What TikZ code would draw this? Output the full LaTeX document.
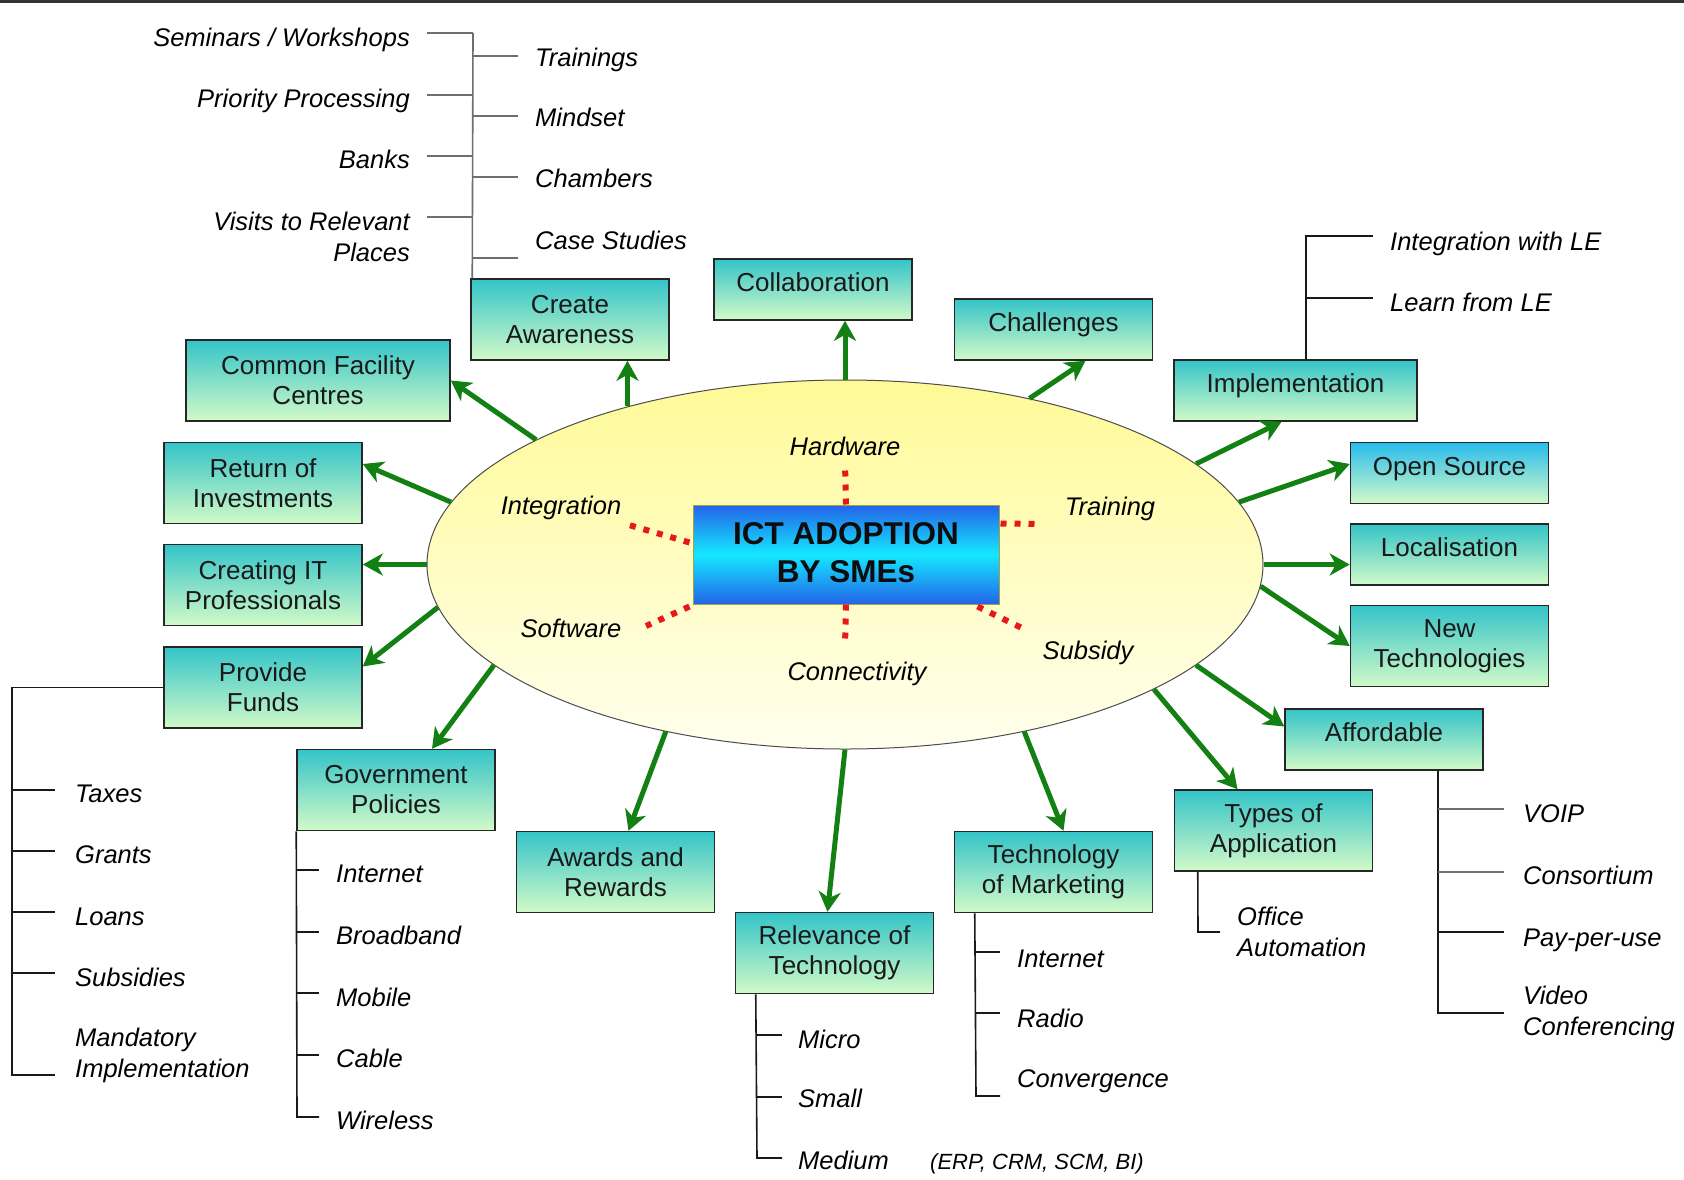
\documentclass[tikz,border=0pt]{standalone}
\usepackage{graphicx}
\usepackage{fontspec}
\setmainfont{Liberation Sans}
\usetikzlibrary{arrows.meta,shapes.geometric,calc}

\definecolor{boxtop}{RGB}{52,196,200}
\definecolor{boxbot}{RGB}{210,250,200}
\definecolor{ostop}{RGB}{40,188,236}
\definecolor{arrowgreen}{RGB}{18,128,18}
\definecolor{dotred}{RGB}{232,24,24}
\definecolor{ovaltop}{RGB}{255,250,150}
\definecolor{ovalbot}{RGB}{255,255,238}
\definecolor{hubblue}{RGB}{36,100,232}
\definecolor{hubcyan}{RGB}{20,232,255}
\definecolor{hubedge}{RGB}{160,160,70}
\definecolor{treegray}{RGB}{110,110,110}

\newcommand\boxfont{\fontsize{26}{30}\selectfont}
\newcommand\itemfont{\fontsize{25.5}{31}\selectfont\itshape}
\newcommand\hubfont{\fontsize{31.5}{38}\selectfont\bfseries}

\tikzset{
  oval/.style={ellipse, draw=black!70, line width=1pt, top color=ovaltop, bottom color=ovalbot,
    minimum width=836pt, minimum height=369pt, inner sep=0pt},
  hubbox/.style={draw=hubedge, line width=1pt, top color=hubblue, bottom color=hubblue, middle color=hubcyan,
    minimum width=306pt, minimum height=99pt, inner sep=0pt},
  hubtitle/.style={font=\hubfont, align=center, inner sep=0pt, text=black!95},
  topic/.style={draw=black!85, line width=1.5pt, top color=boxtop, bottom color=boxbot,
    minimum width=198pt, minimum height=81pt, inner sep=0pt, align=center, font=\boxfont, text=black!90},
  oneline/.style={minimum height=61pt, text height=18pt, text depth=13.4pt},
  spoke/.style={draw=arrowgreen, line width=5pt, -{Stealth[length=20pt,width=22pt,inset=6pt]}},
  facet/.style={draw=dotred, line width=6pt, dash pattern=on 6pt off 8pt},
  facetlabel/.style={font=\itemfont, inner sep=0pt, anchor=base},
  item/.style={font=\itemfont, inner sep=0pt, anchor=base west},
  itemr/.style={font=\itemfont, inner sep=0pt, anchor=base east},
  item2/.style={font=\itemfont, inner sep=0pt, anchor=west, align=left},
  item2r/.style={font=\itemfont, inner sep=0pt, anchor=east, align=right},
  branch/.style={draw=black!90, line width=1.6pt},
  greybranch/.style={draw=treegray, line width=1.6pt},
}

\begin{document}
\begin{tikzpicture}[x=1pt,y=-1pt]
\fill[white] (0,0) rectangle (1684,1179);
\useasboundingbox (0,0) rectangle (1684,1179);
\fill[black!80] (0,0) rectangle (1684,2.5);

% central oval with the hub
\node[oval] (core) at (845,564.5) {};
\node[hubbox] (hub) at (846,554.5) {};
\node[hubtitle] (title) at (846,553) {ICT ADOPTION\\BY SMEs};

% facets inside the oval
\node[facetlabel] (hw) at (845,455) {Hardware};
\node[facetlabel] (integ) at (561,514) {Integration};
\node[facetlabel] (train) at (1110,515) {Training};
\node[facetlabel] (soft) at (571,637) {Software};
\node[facetlabel] (conn) at (857,680) {Connectivity};
\node[facetlabel] (subs) at (1088,659) {Subsidy};

\coordinate (hwend) at (845,463);
\coordinate (integend) at (629,525);
\coordinate (trainend) at (1040,524);
\coordinate (softend) at (646,626);
\coordinate (connend) at (845,646);
\coordinate (subsend) at (1024,629);
\draw[facet] (hub.north) -- (hwend);
\draw[facet] ($(hub.north west)+(-3,38)$) -- (integend);
\draw[facet] ($(hub.north east)+(1,19)$) -- (trainend);
\draw[facet] ($(hub.south west)+(-3,2)$) -- (softend);
\draw[facet] (hub.south) -- (connend);
\draw[facet] ($(hub.south east)+(-22,2)$) -- (subsend);

% topic boxes
\node[topic] (ca) at (570,319.5) {Create\\Awareness};
\node[topic,oneline] (collab) at (813,289.5) {Collaboration};
\node[topic,oneline] (chal) at (1053.5,329.5) {Challenges};
\node[topic,oneline,minimum width=243pt] (impl) at (1295.5,390.5) {Implementation};
\node[topic,oneline,top color=ostop,bottom color=boxbot] (os) at (1449.5,473) {Open Source};
\node[topic,oneline] (loc) at (1449.5,554.5) {Localisation};
\node[topic] (newt) at (1449.5,646) {New\\Technologies};
\node[topic,oneline] (aff) at (1384,739.5) {Affordable};
\node[topic] (types) at (1273.5,830.5) {Types of\\Application};
\node[topic] (mkt) at (1053.5,872) {Technology\\of Marketing};
\node[topic] (rel) at (834.5,953) {Relevance of\\Technology};
\node[topic] (awd) at (615.5,872) {Awards and\\Rewards};
\node[topic] (gov) at (396,790) {Government\\Policies};
\node[topic] (funds) at (263,687.5) {Provide\\Funds};
\node[topic] (itpro) at (263,585) {Creating IT\\Professionals};
\node[topic] (roi) at (263,483) {Return of\\Investments};
\node[topic,minimum width=264pt] (cfc) at (318,380.5) {Common Facility\\Centres};

% green spokes from the oval to the topics
\draw[spoke] (core.144) -- (core.144 |- ca.south);
\draw[spoke] (core.north) -- (core.north |- collab.south);
\draw[spoke] (core.42) -- ($(chal.south)+(32,0)$);
\draw[spoke] (core.16) -- ($(impl.south)+(-14,0)$);
\draw[spoke] (core.9) -- ($(os.west)+(0,-9)$);
\draw[spoke] (core.east) -- (core.east -| loc.west);
\draw[spoke] (core.357) -- (newt.west);
\draw[spoke] (core.344) -- ($(aff.west)+(0,-13)$);
\draw[spoke] (core.338) -- ($(types.north)+(-36,0)$);
\draw[spoke] (core.317) -- ($(mkt.north)+(10,0)$);
\draw[spoke] (core.south) -- ($(rel.north)+(-7,0)$);
\draw[spoke] (core.223) -- ($(awd.north)+(13,0)$);
\draw[spoke] (core.196) -- ($(gov.north)+(36,0)$);
\draw[spoke] (core.186) -- ($(funds.east)+(0,-21)$);
\draw[spoke] (core.west) -- (core.west -| itpro.east);
\draw[spoke] (core.171) -- ($(roi.east)+(0,-19)$);
\draw[spoke] (core.158) -- (cfc.east);

% Create Awareness branches
\draw[greybranch] ($(ca.north west)+(2,0)$) -- (473,33);
\foreach \y in {33,95,156,217} \draw[greybranch] (427,\y) -- (473,\y);
\foreach \y in {56,116,177,258} \draw[greybranch] (473,\y) -- (518,\y);
\node[itemr] (sem) at (410,46) {Seminars / Workshops};
\node[itemr] (prio) at (410,107) {Priority Processing};
\node[itemr] (banks) at (410,168) {Banks};
\node[item2r] (visits) at (410,236.5) {Visits to Relevant\\Places};
\node[item] (trn) at (535,66) {Trainings};
\node[item] (mind) at (535,126) {Mindset};
\node[item] (cham) at (535,187) {Chambers};
\node[item] (case) at (535,249) {Case Studies};

% Implementation branches
\draw[branch] ($(impl.north)+(10.5,0)$) -- (1306,236) -- (1373,236);
\draw[branch] (1306,298) -- (1373,298);
\node[item] (integle) at (1390,250) {Integration with LE};
\node[item] (learnle) at (1390,311) {Learn from LE};

% Affordable branches
\draw[branch] ($(aff.south)+(54,0)$) -- (1438,1013) -- (1504,1013);
\foreach \y in {809,872} \draw[greybranch] (1438,\y) -- (1504,\y);
\draw[branch] (1438,932) -- (1504,932);
\node[item] (voip) at (1523,822) {VOIP};
\node[item] (cons) at (1523,884) {Consortium};
\node[item] (ppu) at (1523,946) {Pay-per-use};
\node[item2] (video) at (1523,1013) {Video\\Conferencing};

% Types of Application branch
\draw[branch] ($(types.south west)+(24,0)$) -- (1198,932) -- (1220,932);
\node[item2] (office) at (1237,932) {Office\\Automation};

% Provide Funds branches
\draw[branch] (funds.west) -- (12,687.5) -- (12,1075) -- (55,1075);
\foreach \y in {790,851,912,973} \draw[branch] (12,\y) -- (55,\y);
\node[item] (taxes) at (75,802) {Taxes};
\node[item] (grants) at (75,863) {Grants};
\node[item] (loans) at (75,925) {Loans};
\node[item] (subsid) at (75,986) {Subsidies};
\node[item2] (mand) at (75,1055) {Mandatory\\Implementation};

% Government Policies branches
\draw[branch] (gov.south west) -- (297,1117) -- (319,1117);
\foreach \y in {870,932,993,1055} \draw[branch] (297,\y) -- (319,\y);
\node[item] (ginet) at (336,882) {Internet};
\node[item] (gbb) at (336,944) {Broadband};
\node[item] (gmob) at (336,1006) {Mobile};
\node[item] (gcab) at (336,1067) {Cable};
\node[item] (gwl) at (336,1129) {Wireless};

% Relevance of Technology branches
\draw[branch] ($(rel.south west)+(21,0)$) -- (757,1158) -- (782,1158);
\foreach \y in {1035,1097} \draw[branch] (757,\y) -- (782,\y);
\node[item] (micro) at (798,1048) {Micro};
\node[item] (small) at (798,1107) {Small};
\node[item] (medium) at (798,1169) {Medium};
\node[item, font=\fontsize{22}{26}\selectfont\itshape] (erp) at (930,1169) {(ERP, CRM, SCM, BI)};

% Technology of Marketing branches
\draw[branch] ($(mkt.south west)+(21,0)$) -- (976,1096) -- (1000,1096);
\foreach \y in {952,1013} \draw[branch] (976,\y) -- (1000,\y);
\node[item] (minet) at (1017,967) {Internet};
\node[item] (radio) at (1017,1027) {Radio};
\node[item] (conv) at (1017,1087) {Convergence};
\end{tikzpicture}
\end{document}
